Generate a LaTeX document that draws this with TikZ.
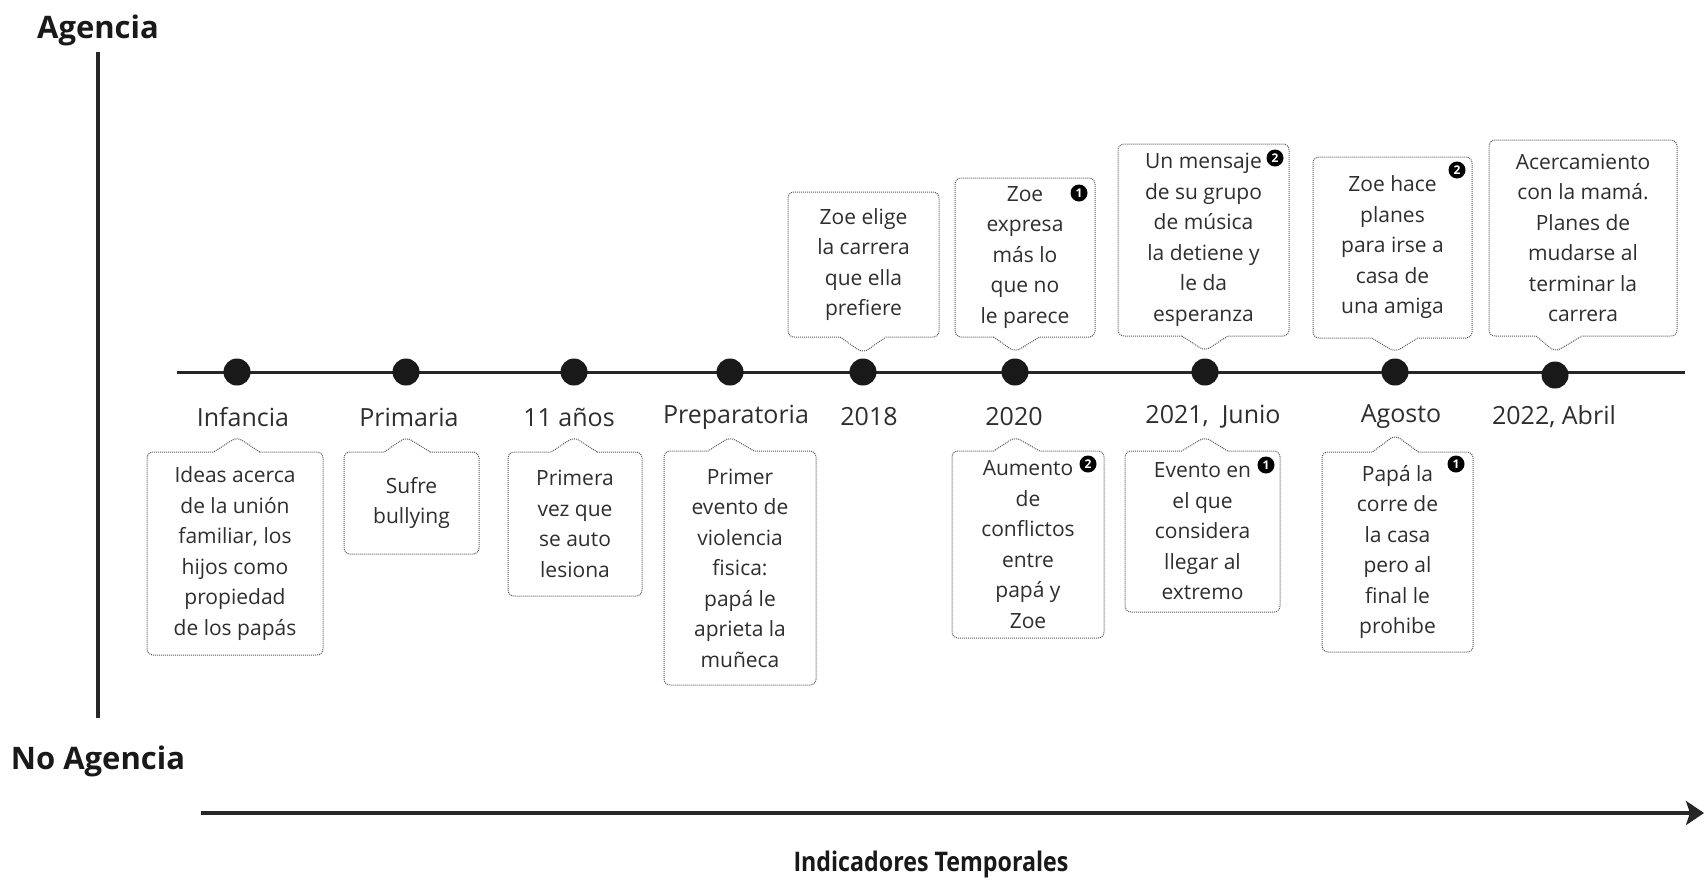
\documentclass[tikz,border=0pt]{standalone}
\usepackage{fontspec}
\setmainfont{Open Sans}
\usetikzlibrary{shapes.callouts,arrows.meta}
\definecolor{inkgray}{HTML}{2E2E2E}
\definecolor{linegray}{HTML}{262626}

\tikzset{
  callbox/.style={rectangle callout, draw=inkgray!80, densely dotted, line width=1pt,
    rounded corners=6pt, align=center, text=inkgray, inner sep=0pt,
    font=\fontsize{21}{30.5}\selectfont, callout pointer width=46pt},
  stage/.style={text=inkgray, font=\fontsize{25}{25}\selectfont},
  hito/.style={circle, fill=black!90, minimum size=27pt, inner sep=0pt},
  badge/.style={circle, fill=black, text=white, minimum size=17pt, inner sep=0pt,
    font=\fontsize{12}{12}\selectfont\bfseries},
  axistitle/.style={text=black!90, font=\fontsize{31}{31}\selectfont\bfseries},
}

\begin{document}
\begin{tikzpicture}[x=1pt,y=-1pt]
\useasboundingbox (0,0) rectangle (1705,879);

% Axes
\node[axistitle] (tAg) at (98,30) {Agencia};
\node[axistitle] (tNoAg) at (98,761) {No Agencia};
\draw[line width=3.5pt, linegray] (98,52) -- (98,718);
\draw[line width=3.5pt, linegray, -{Stealth[length=18pt,width=24pt,inset=4pt]}] (201,813) -- (1704,813);
\node[axistitle, font=\fontsize{27}{27}\selectfont\bfseries\addfontfeatures{FakeStretch=0.86}] (tTime) at (931,864) {Indicadores Temporales};

% Timeline
\draw[line width=3pt, linegray] (177,372) -- (1685,372);

% Milestones on the line
\node[hito] (dInf) at (237,372) {};
\node[hito] (dPrim) at (406,372) {};
\node[hito] (dOnce) at (574,372) {};
\node[hito] (dPrep) at (730,372) {};
\node[hito] (dA18) at (863,372) {};
\node[hito] (dA20) at (1015,372) {};
\node[hito] (dA21) at (1205,372) {};
\node[hito] (dAgo) at (1395,372) {};
\node[hito] (dA22) at (1555,375) {};

% Time labels
\node[stage] (lInf) at (243,417) {Infancia};
\node[stage] (lPrim) at (409,417) {Primaria};
\node[stage] (lOnce) at (569,417) {11 años};
\node[stage] (lPrep) at (736,417) {Preparatoria};
\node[stage] (lA18) at (869,417) {2018};
\node[stage] (lA20) at (1014,417) {2020};
\node[stage] (lA21) at (1213,417) {2021,\ \ Junio};
\node[stage] (lAgo) at (1401,417) {Agosto};
\node[stage] (lA22) at (1554,417) {2022, Abril};

% Events below the line
\node[callbox, minimum width=176pt, minimum height=203pt,
  callout absolute pointer={(dInf |- 0,437)}] (bInf) at (235,553.5)
  {Ideas acerca\\de la unión\\familiar, los\\hijos como\\propiedad\\de los papás};
\node[callbox, minimum width=135pt, minimum height=102pt,
  callout absolute pointer={(dPrim |- 0,437)}] (bPrim) at (411.5,503)
  {Sufre\\bullying};
\node[callbox, minimum width=134pt, minimum height=144pt,
  callout absolute pointer={(dOnce |- 0,437)}] (bOnce) at (575,524)
  {Primera\\vez que\\se auto\\lesiona};
\node[callbox, minimum width=152pt, minimum height=234pt,
  callout absolute pointer={(dPrep |- 0,437)}] (bPrep) at (740,568)
  {Primer\\evento de\\violencia\\fisica:\\papá le\\aprieta la\\muñeca};
\node[callbox, minimum width=152pt, minimum height=187pt,
  callout absolute pointer={(dA20 |- 0,437)}] (bA20) at (1028,544.5)
  {Aumento\\de\\conflictos\\entre\\papá y\\Zoe};
\node[callbox, minimum width=155pt, minimum height=161pt,
  callout absolute pointer={(dA21 |- 0,437)}] (bA21) at (1202.5,531.5)
  {Evento en\\el que\\considera\\llegar al\\extremo};
\node[callbox, minimum width=151pt, minimum height=200pt,
  callout absolute pointer={(dAgo |- 0,435)}] (bAgo) at (1397.5,552)
  {Papá la\\corre de\\la casa\\pero al\\final le\\prohibe};

% Events above the line
\node[callbox, minimum width=151pt, minimum height=145pt,
  callout absolute pointer={(dA18 |- 0,353)}] (aA18) at (863.5,264.5)
  {Zoe elige\\la carrera\\que ella\\prefiere};
\node[callbox, minimum width=140pt, minimum height=159pt,
  callout absolute pointer={(dA20 |- 0,352)}] (aA20) at (1025,257.5)
  {Zoe\\expresa\\más lo\\que no\\le parece};
\node[callbox, minimum width=171pt, minimum height=192pt,
  callout absolute pointer={(dA21 |- 0,351)}] (aA21) at (1203.5,240)
  {Un mensaje\\de su grupo\\de música\\la detiene y\\le da\\esperanza};
\node[callbox, minimum width=159pt, minimum height=181pt,
  callout absolute pointer={(dAgo |- 0,352)}] (aAgo) at (1392.5,247.5)
  {Zoe hace\\planes\\para irse a\\casa de\\una amiga};
\node[callbox, minimum width=188pt, minimum height=196pt,
  callout absolute pointer={(dA22 |- 0,352)}] (aA22) at (1583,238)
  {Acercamiento\\con la mamá.\\Planes de\\mudarse al\\terminar la\\carrera};

% Numbered marks
\node[badge] (kA20b) at (1088,464) {2};
\node[badge] (kA21b) at (1266,465) {1};
\node[badge] (kAgob) at (1456,464) {1};
\node[badge] (kA20a) at (1079,193) {1};
\node[badge] (kA21a) at (1275,158) {2};
\node[badge] (kAgoa) at (1457,170) {2};

\end{tikzpicture}
\end{document}
